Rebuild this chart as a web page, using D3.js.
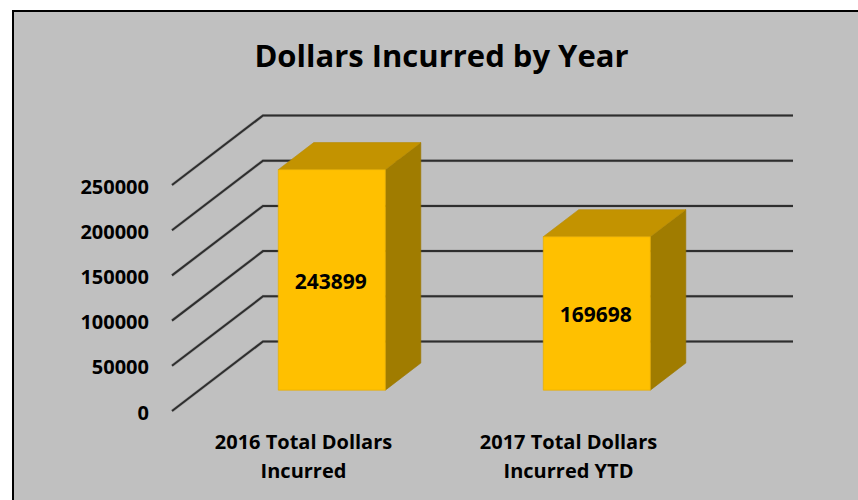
<!DOCTYPE html>
<html>
<head>
<meta charset="utf-8">
<script src="https://cdn.jsdelivr.net/npm/d3@7"></script>
<style>
  html, body { margin: 0; padding: 0; background: #ffffff; }
  svg { display: block; }
  text { font-family: "Open Sans", "Liberation Sans", sans-serif; font-weight: 700; fill: #000; }
</style>
</head>
<body>
<script>
// ---- data ----
const title = "Dollars Incurred by Year";
const categories = [["2016 Total Dollars", "Incurred"], ["2017 Total Dollars", "Incurred YTD"]];
const values = [243899, 169698];
const tickValues = [0, 50000, 100000, 150000, 200000, 250000];

// ---- layout ----
const W = 858, H = 500;
const svg = d3.select("body").append("svg").attr("width", W).attr("height", H);

// chart area background + border
svg.append("rect").attr("x", 13).attr("y", 11).attr("width", W + 20).attr("height", H + 20)
  .attr("fill", "#c0c0c0").attr("stroke", "#000").attr("stroke-width", 2);

// oblique projection parameters
const frontLeft = 172, frontBottom = 411;
const depthDX = 91, depthDY = -69.5;
const plotFrontWidth = 530;

const yVal = d3.scaleLinear().domain([0, 250000]).range([0, 226]);
const xBand = d3.scaleBand().domain(d3.range(categories.length)).range([0, plotFrontWidth])
  .paddingInner(0.596).paddingOuter(0.298);

// project (x along front, value, depth 0..1) to screen
function P(x, v, d) {
  return [frontLeft + x + d * depthDX, frontBottom + d * depthDY - yVal(v)];
}

// ---- gridlines ----
const grid = svg.append("g");
tickValues.forEach(v => {
  const a = P(0, v, 0), b = P(0, v, 1), c = P(plotFrontWidth, v, 1);
  grid.append("path").attr("d", d3.line()([a, b, c]).toString())
    .attr("fill", "none").attr("stroke", "#8a8a8a").attr("stroke-width", 3.2).attr("opacity", 0.5);
  grid.append("path").attr("d", d3.line()([a, b, c]).toString())
    .attr("fill", "none").attr("stroke", "#2e2e2e").attr("stroke-width", 2);
});

// tick labels
svg.append("g").selectAll("text").data(tickValues).join("text")
  .attr("x", 149).attr("y", d => P(0, d, 0)[1] + 1)
  .attr("text-anchor", "end").attr("dominant-baseline", "central")
  .attr("font-size", 20).text(d => d);

// ---- bars ----
const d0 = 0.30, d1 = 0.69;
const bars = svg.append("g");
values.forEach((v, i) => {
  const x0 = xBand(i), x1 = xBand(i) + xBand.bandwidth();
  const poly = pts => "M" + pts.map(p => p.join(",")).join("L") + "Z";
  bars.append("path").attr("d", poly([P(x1, 0, d0), P(x1, 0, d1), P(x1, v, d1), P(x1, v, d0)]))
    .attr("fill", "#a07c00").attr("stroke", "#9a7700").attr("stroke-width", 1).attr("stroke-opacity", 0.6);
  bars.append("path").attr("d", poly([P(x0, v, d0), P(x1, v, d0), P(x1, v, d1), P(x0, v, d1)]))
    .attr("fill", "#c39300").attr("stroke", "#b88a00").attr("stroke-width", 1).attr("stroke-opacity", 0.6);
  bars.append("path").attr("d", poly([P(x0, 0, d0), P(x1, 0, d0), P(x1, v, d0), P(x0, v, d0)]))
    .attr("fill", "#ffc000").attr("stroke", "#e6ad00").attr("stroke-width", 1).attr("stroke-opacity", 0.7);
  const fx = (P(x0, 0, d0)[0] + P(x1, 0, d0)[0]) / 2;
  const fy = (P(x0, 0, d0)[1] + P(x0, v, d0)[1]) / 2;
  bars.append("text").attr("x", fx - 1).attr("y", fy + 1)
    .attr("text-anchor", "middle").attr("dominant-baseline", "central")
    .attr("font-size", 21).text(v);
});

// ---- category labels ----
categories.forEach((lines, i) => {
  const cx = frontLeft + xBand(i) + xBand.bandwidth() / 2 - 1;
  const t = svg.append("text").attr("text-anchor", "middle").attr("font-size", 20);
  lines.forEach((ln, j) => {
    t.append("tspan").attr("x", cx).attr("y", 449 + j * 28.5).text(ln);
  });
});

// ---- title ----
svg.append("text").attr("x", 441.5).attr("y", 67).attr("text-anchor", "middle")
  .attr("font-size", 31).text(title);
</script>
</body>
</html>
